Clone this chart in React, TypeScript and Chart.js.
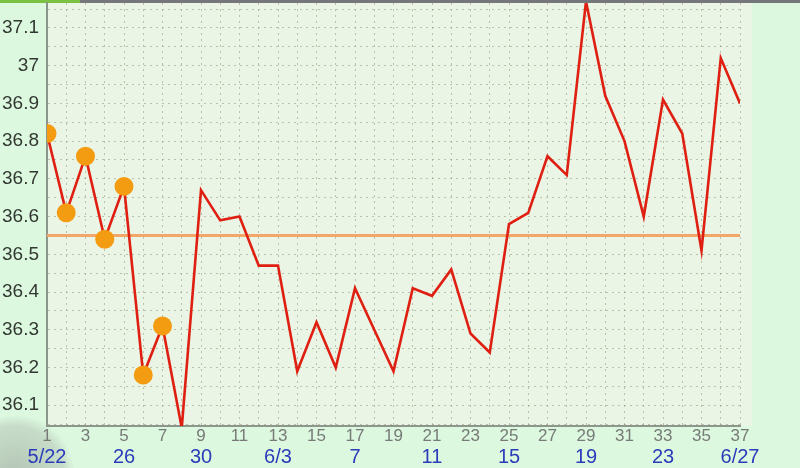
import React, { useEffect, useRef } from "react";
import { Chart, registerables } from "chart.js";

Chart.register(...registerables);

const days: number[] = [
  1, 2, 3, 4, 5, 6, 7, 8, 9, 10, 11, 12, 13, 14, 15, 16, 17, 18, 19, 20, 21, 22, 23, 24, 25, 26, 27, 28,
  29, 30, 31, 32, 33, 34, 35, 36, 37,
];
const temps: number[] = [
  36.82, 36.61, 36.76, 36.54, 36.68, 36.18, 36.31, 36.04, 36.67, 36.59, 36.6, 36.47, 36.47, 36.19,
  36.32, 36.2, 36.41, 36.3, 36.19, 36.41, 36.39, 36.46, 36.29, 36.24, 36.58, 36.61, 36.76, 36.71,
  37.17, 36.92, 36.8, 36.6, 36.91, 36.82, 36.51, 37.02, 36.9,
];
const markedDays: number[] = [1, 2, 3, 4, 5, 6, 7];
const coverLine: number[] = [36.55, 36.55];
const coverDays: number[] = [1, 37];
const dateTickDays: number[] = [1, 5, 9, 13, 17, 21, 25, 29, 33, 37];
const dateTickLabels: string[] = ["5/22", "26", "30", "6/3", "7", "11", "15", "19", "23", "6/27"];

const FONT = '"Liberation Sans", Arial, sans-serif';

export default function App() {
  const ref = useRef<HTMLCanvasElement | null>(null);

  useEffect(() => {
    document.body.style.margin = "0";
    document.body.style.background = "#dcf8df";
    if (!ref.current) return;

    const bgPlugin = {
      id: "bg",
      beforeDraw(chart: any) {
        const { ctx, chartArea } = chart;
        ctx.save();
        ctx.fillStyle = "#dcf8df";
        ctx.fillRect(0, 0, chart.width, chart.height);
        const g = ctx.createRadialGradient(15, 475, 5, 15, 475, 60);
        g.addColorStop(0, "rgba(150,160,150,0.55)");
        g.addColorStop(0.8, "rgba(160,170,160,0.35)");
        g.addColorStop(1, "rgba(160,170,160,0)");
        ctx.fillStyle = g;
        ctx.fillRect(0, 400, 80, 68);
        ctx.fillStyle = "#eaf5e5";
        ctx.fillRect(chartArea.left, chartArea.top, chartArea.right - chartArea.left + 12, chartArea.bottom - chartArea.top);
        ctx.fillStyle = "#76767a";
        ctx.fillRect(0, 0, chart.width, 3);
        ctx.fillStyle = "#7cc242";
        ctx.fillRect(0, 0, 80, 3);
        ctx.restore();
      },
    };

    const chart = new Chart(ref.current, {
      type: "line",
      data: {
        datasets: [
          {
            data: days.map((d, i) => ({ x: d, y: temps[i] })),
            borderColor: "#de1f12",
            borderWidth: 2.6,
            pointRadius: days.map((d) => (markedDays.includes(d) ? 9.5 : 0)),
            pointBackgroundColor: "#f39c12",
            pointBorderWidth: 0,
            tension: 0,
            order: 1,
          },
          {
            data: coverDays.map((d, i) => ({ x: d, y: coverLine[i] })),
            borderColor: "#f2a667",
            borderWidth: 3,
            pointRadius: 0,
            order: 2,
          },
        ],
      },
      options: {
        animation: false,
        responsive: false,
        layout: { autoPadding: false, padding: { top: 3, right: 60, left: 0, bottom: 0 } },
        plugins: { legend: { display: false }, tooltip: { enabled: false } },
        scales: {
          x: {
            type: "linear",
            position: "bottom",
            min: 1,
            max: 37,
            afterFit(scale: any) {
              scale.height = 19;
            },
            ticks: {
              stepSize: 1,
              autoSkip: false,
              maxRotation: 0,
              padding: 0,
              color: "#777a77",
              font: { family: FONT, size: 17 },
              callback: (v: any) => (Number(v) % 2 === 1 ? String(v) : ""),
            },
            grid: {
              color: "rgba(150,150,120,0.55)",
              lineWidth: 1,
              drawTicks: false,
            },
            border: { display: true, color: "#8c968c", width: 2, dash: [2, 4] as any },
          },
          x2: {
            type: "linear",
            position: "bottom",
            min: 1,
            max: 37,
            afterFit(scale: any) {
              scale.height = 23;
            },
            afterBuildTicks(scale: any) {
              scale.ticks = dateTickDays.map((v) => ({ value: v }));
            },
            ticks: {
              autoSkip: false,
              maxRotation: 0,
              padding: 0,
              color: "#2b3cba",
              font: { family: FONT, size: 20 },
              callback: (v: any) => {
                const i = dateTickDays.indexOf(Number(v));
                return i >= 0 ? dateTickLabels[i] : "";
              },
            },
            grid: { display: false, drawTicks: false },
            border: { display: false },
          },
          y: {
            type: "linear",
            min: 36.045,
            max: 37.166,
            afterFit(scale: any) {
              scale.width = 47;
              scale.paddingTop = 0;
              scale.paddingBottom = 0;
            },
            ticks: {
              stepSize: 0.05,
              includeBounds: false,
              autoSkip: false,
              padding: 8,
              color: "#333833",
              font: { family: FONT, size: 19 },
              callback: (v: any) => {
                const n = Math.round(Number(v) * 100);
                return n % 10 === 0 ? String(Number((n / 100).toFixed(1))) : "";
              },
            },
            grid: {
              color: "rgba(150,150,120,0.55)",
              lineWidth: 1,
              drawTicks: false,
            },
            border: { display: true, color: "#8c968c", width: 2, dash: [2, 4] as any },
          },
        },
      },
      plugins: [bgPlugin],
    } as any);

    return () => chart.destroy();
  }, []);

  return (
    <div style={{ width: 800, height: 468 }}>
      <canvas ref={ref} width={800} height={468} style={{ display: "block" }} />
    </div>
  );
}
